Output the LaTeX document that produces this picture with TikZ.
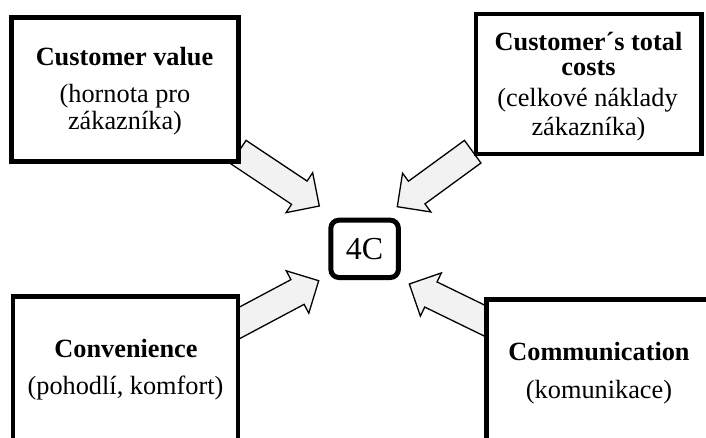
\documentclass[tikz,border=0pt]{standalone}
\usepackage{fontspec}
\setmainfont{Liberation Serif}
\usetikzlibrary{calc}

\definecolor{arrowfill}{RGB}{242,242,242}

\tikzset{
  framebox/.style={draw=black, line width=4.5pt, fill=white, inner sep=0pt, outer sep=0pt},
  centerbox/.style={framebox, line width=5pt, rounded corners=8pt},
  blockarrow/.style={draw=black, line width=1.3pt, fill=arrowfill, line join=miter},
  label/.style={anchor=base, inner sep=0pt, font=\fontsize{26.3}{30}\selectfont},
  title/.style={label, font=\fontsize{26.3}{30}\selectfont\bfseries},
}

% block arrow from tail #1 to tip #2
\newcommand\blockarrow[2]{%
  \coordinate (#1-base) at ($(#2)!24pt!(#1)$);
  \draw[blockarrow]
    ($(#1)!14pt!90:(#2)$) --
    ($(#1-base)!14pt!90:(#2)$) --
    ($(#1-base)!24pt!90:(#2)$) --
    (#2) --
    ($(#1-base)!24pt!-90:(#2)$) --
    ($(#1-base)!14pt!-90:(#2)$) --
    ($(#1)!14pt!-90:(#2)$) -- cycle;
}

\begin{document}
\begin{tikzpicture}[x=1pt, y=-1pt]
  \useasboundingbox (0,0) rectangle (706,437);
  \clip (0,0) rectangle (706,437);

  % arrow ends
  \coordinate (tlTail) at (238.3,152);
  \coordinate (tlTip)  at (319.3,206);
  \coordinate (trTail) at (472.7,151.7);
  \coordinate (trTip)  at (397.3,206.7);
  \coordinate (blTail) at (228,329);
  \coordinate (blTip)  at (318.7,280.7);
  \coordinate (brTail) at (495,325.7);
  \coordinate (brTip)  at (409.3,284);

  \blockarrow{tlTail}{tlTip}
  \blockarrow{trTail}{trTip}
  \blockarrow{blTail}{blTip}
  \blockarrow{brTail}{brTip}

  % boxes
  \node[framebox, minimum width=226.6pt, minimum height=144.2pt] (value) at (125,89.6) {};
  \node[framebox, minimum width=225.1pt, minimum height=139.6pt] (costs) at (588.75,84) {};
  \node[framebox, minimum width=225pt, minimum height=163.5pt] (conv) at (125.5,378.25) {};
  \node[framebox, minimum width=228pt, minimum height=160.5pt] (comm) at (600.5,379.75) {};
  \node[centerbox, minimum width=67.5pt, minimum height=57.3pt] (fourc) at (364.6,248.85) {};

  % texts
  \node[anchor=base, inner sep=0pt, font=\fontsize{32}{36}\selectfont] (fourcText) at (364.6,259.3) {4C};

  \node[title] (valueA) at (124.5,65) {Customer value};
  \node[label] (valueB) at (125,102.7) {(hornota pro};
  \node[label] (valueC) at (125,129.3) {zákazníka)};

  \node[title] (costsA) at (588.5,50) {Customer´s total};
  \node[title] (costsB) at (588.5,75) {costs};
  \node[label] (costsC) at (587.5,106.7) {(celkové náklady};
  \node[label] (costsD) at (588.5,135) {zákazníka)};

  \node[title] (convA) at (126,357) {Convenience};
  \node[label] (convB) at (125.5,394.5) {(pohodlí, komfort)};

  \node[title] (commA) at (599,360.7) {Communication};
  \node[label] (commB) at (599,398) {(komunikace)};
\end{tikzpicture}
\end{document}
